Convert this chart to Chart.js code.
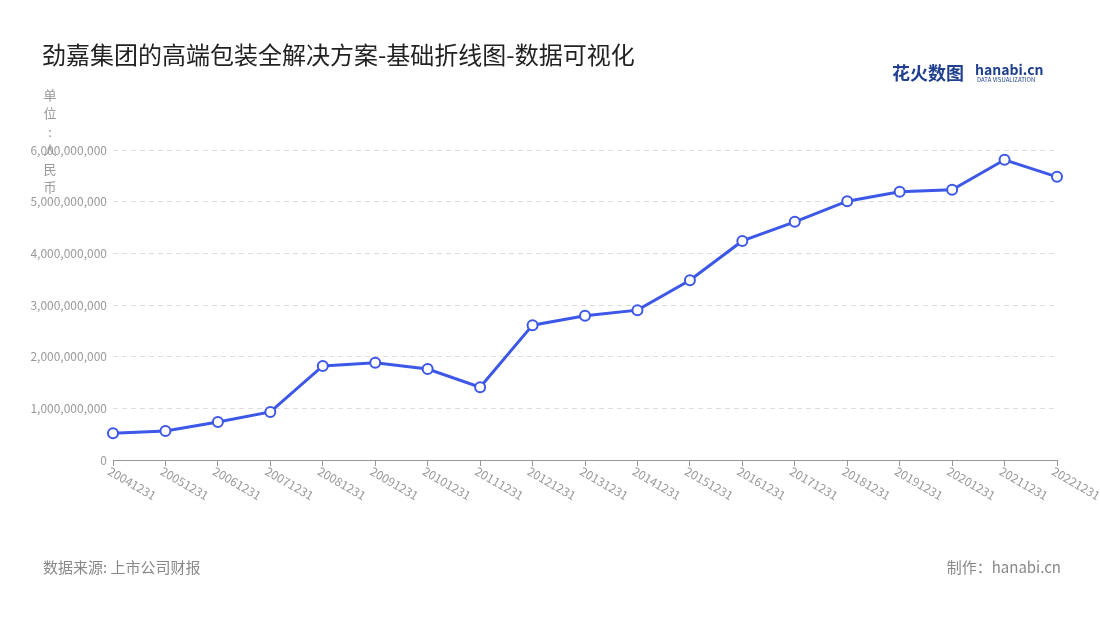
<!DOCTYPE html>
<html>
<head>
<meta charset="utf-8">
<script src="https://cdn.jsdelivr.net/npm/chart.js@4"></script>
<style>
  html, body { margin: 0; padding: 0; background: #fff; }
  #wrap { width: 1100px; height: 620px; }
</style>
</head>
<body>
<div id="wrap"><canvas id="myChart" width="1100" height="620"></canvas></div>
<script>
// data
const years = ['20041231', '20051231', '20061231', '20071231', '20081231', '20091231', '20101231',
    '20111231', '20121231', '20131231', '20141231', '20151231', '20161231', '20171231',
    '20181231', '20191231', '20201231', '20211231', '20221231'];
const revenue = [0.52e9, 0.56e9, 0.735e9, 0.93e9, 1.82e9, 1.88e9, 1.76e9, 1.41e9, 2.61e9, 2.79e9,
    2.90e9, 3.48e9, 4.24e9, 4.61e9, 5.01e9, 5.19e9, 5.23e9, 5.81e9, 5.48e9];
const yTicks = [0, 1e9, 2e9, 3e9, 4e9, 5e9, 6e9];

const title = '劲嘉集团的高端包装全解决方案-基础折线图-数据可视化';
const unitText = '单位:人民币';
const sourceText = '数据来源: 上市公司财报';
const makerText = '制作：hanabi.cn';
const FONT = '"Noto Sans CJK SC", "Noto Sans", sans-serif';

const decor = {
    id: 'decor',
    afterDraw(chart) {
        const c = chart.ctx;
        c.save();
        c.fillStyle = '#222';
        c.font = '24px ' + FONT;
        c.textBaseline = 'middle';
        c.fillText(title, 42, 55);

        // logo
        c.font = 'bold 18px ' + FONT;
        c.fillStyle = '#1f3f8f';
        c.fillText('花火数图', 892, 73);
        c.font = 'bold 14px ' + FONT;
        c.fillText('hanabi.cn', 975, 70);
        c.font = '6px ' + FONT;
        c.fillText('DATA VISUALIZATION', 977, 80);

        // vertical unit label
        c.fillStyle = '#999';
        c.font = '13px ' + FONT;
        c.textAlign = 'center';
        [...unitText].forEach((ch, i) => c.fillText(ch, 50, 95 + i * 18.5));

        // rotated x labels, starting at each tick
        const x = chart.scales.x;
        c.textAlign = 'left';
        c.font = '12px ' + FONT;
        years.forEach((lab, i) => {
            c.save();
            c.translate(x.getPixelForTick(i) - 4, 470);
            c.rotate(Math.PI / 6);
            c.fillText(lab, 0, 0);
            c.restore();
        });

        c.font = '15px ' + FONT;
        c.fillStyle = '#888';
        c.fillText(sourceText, 43, 567);
        c.textAlign = 'right';
        c.fillText(makerText, 1061, 567);
        c.restore();
    }
};

new Chart(document.getElementById('myChart').getContext('2d'), {
    type: 'line',
    data: {
        labels: years,
        datasets: [{
            data: revenue,
            borderColor: '#3d57e8',
            borderWidth: 3,
            pointBackgroundColor: '#fff',
            pointBorderColor: '#3d57e8',
            pointBorderWidth: 2,
            pointRadius: 5,
            tension: 0
        }]
    },
    options: {
        responsive: false,
        animation: false,
        layout: { padding: { top: 150, right: 43, bottom: 0, left: 0 } },
        plugins: { legend: { display: false }, tooltip: { enabled: false } },
        scales: {
            x: {
                offset: false,
                grid: { display: true, drawOnChartArea: false, tickLength: 6, color: '#999' },
                border: { color: '#999' },
                ticks: { display: false },
                afterFit(s) { s.height = 160; }
            },
            y: {
                min: 0,
                max: 6e9,
                afterBuildTicks(s) { s.ticks = yTicks.map(v => ({ value: v })); },
                afterFit(s) { s.width = 113; },
                border: { display: false, dash: [5, 4] },
                grid: { color: '#ddd', tickLength: 0 },
                ticks: {
                    color: '#999',
                    padding: 6,
                    font: { size: 12, family: FONT },
                    callback: v => v.toLocaleString('en-US')
                }
            }
        }
    },
    plugins: [decor]
});
</script>
</body>
</html>
